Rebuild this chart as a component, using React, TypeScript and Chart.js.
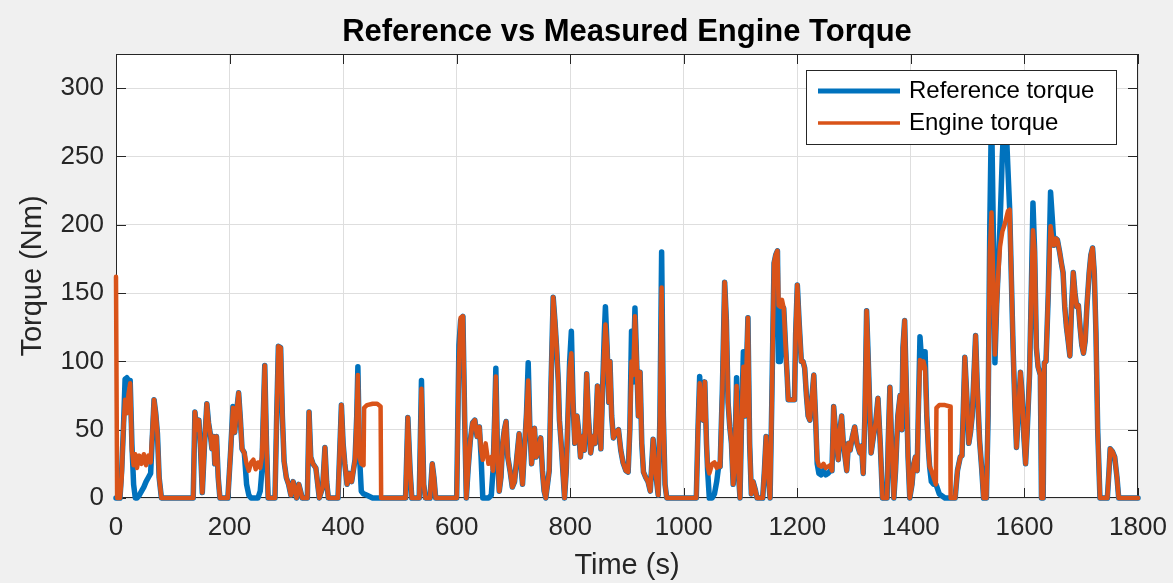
import React, { useEffect, useRef } from "react";
import { Chart, registerables } from "chart.js";

Chart.register(...registerables);

const TITLE = "Reference vs Measured Engine Torque";
const X_LABEL = "Time (s)";
const Y_LABEL = "Torque (Nm)";
const SERIES_LABELS = ["Reference torque", "Engine torque"];
const SERIES_COLORS = ["#0072BD", "#D95319"];

const X_MIN = 0;
const X_MAX = 1800;
const X_STEP = 200;
const Y_MIN = 0;
const Y_MAX = 325;
const Y_STEP = 50;

const time = [
  0, 2, 7, 10, 13, 16, 19, 22, 25, 28, 31, 34, 37, 41, 45, 49, 53, 57, 61, 64, 67, 70, 73, 76, 80,
  136, 139, 142, 146, 149, 152, 156, 160, 163, 166, 169, 172, 174, 177, 180, 183,
  197, 202, 206, 209, 212, 216, 219, 222, 226, 230, 234, 238, 242, 246, 250, 254, 257, 259, 262, 265, 268,
  280, 283, 286, 290, 293, 296, 300, 304, 308, 312, 318, 322, 328,
  337, 340, 343, 347, 352, 358, 364, 368, 371, 374,
  391, 397, 400, 403, 407, 411, 415, 418, 421, 424, 426, 429, 432, 436, 437, 442, 452, 460, 466, 467,
  510, 514, 518, 521, 534, 538, 542, 545, 553, 557, 560, 563,
  600, 604, 607, 611, 614, 617, 620, 624, 628, 632, 636, 640, 643, 646, 651, 656, 661, 664, 667, 669,
  672, 675, 678, 681, 684, 687, 690, 694, 698, 702, 706, 710, 713, 716, 720, 723, 726, 729, 732, 735,
  737, 740, 744, 748, 751, 754, 757, 763, 766, 770, 773, 776, 779, 781, 784, 787, 790, 793, 796, 799,
  802, 805, 808, 812, 815, 818, 821, 825, 829, 832, 836, 840, 844, 848, 851, 854, 857, 860, 862, 865,
  868, 870, 873, 876, 880, 885, 889, 893, 898, 902, 905, 908, 911, 914, 917, 920, 923, 926, 929, 933,
  937, 941, 946, 950, 955, 958, 961, 964, 967, 970,
  1022, 1025, 1028, 1031, 1034, 1037, 1040, 1042, 1045, 1050, 1054, 1058, 1061, 1064, 1068, 1072, 1075,
  1078, 1081, 1084, 1087, 1090, 1093, 1096, 1099, 1102, 1105, 1108, 1110, 1113, 1116, 1119, 1122, 1126,
  1129, 1139, 1142, 1145, 1149, 1152, 1155, 1157, 1159, 1162, 1165, 1167, 1170, 1173, 1176, 1179, 1182,
  1184, 1189, 1195, 1197, 1200, 1203, 1207, 1210, 1213, 1216, 1219, 1222, 1226, 1229, 1232, 1235, 1238,
  1242, 1246, 1250, 1254, 1258, 1261, 1264, 1268, 1272, 1275, 1278, 1281, 1284, 1287, 1290, 1293, 1297,
  1301, 1305, 1310, 1313, 1316, 1319, 1322, 1325, 1328, 1330, 1334, 1338, 1342, 1346, 1350, 1358, 1360,
  1363, 1366, 1370, 1373, 1377, 1381, 1384, 1386, 1389, 1392, 1395, 1398, 1402, 1405, 1408, 1411, 1413,
  1416, 1419, 1422, 1425, 1428, 1431, 1433, 1436, 1440, 1444, 1445, 1450, 1460, 1469, 1470, 1478, 1482,
  1487, 1490, 1495, 1499, 1502, 1505, 1508, 1511, 1514, 1517, 1521, 1525, 1528, 1533, 1536, 1539, 1542,
  1545, 1548, 1551, 1554, 1557, 1561, 1565, 1568, 1571, 1574, 1577, 1580, 1583, 1586, 1589, 1593, 1596,
  1599, 1602, 1605, 1609, 1612, 1615, 1618, 1621, 1624, 1628, 1630, 1633, 1635, 1638, 1642, 1646, 1649,
  1652, 1655, 1658, 1662, 1665, 1668, 1671, 1674, 1677, 1680, 1683, 1686, 1689, 1692, 1695, 1698, 1701,
  1704, 1707, 1710, 1714, 1717, 1720, 1723, 1726, 1729, 1733, 1746, 1749, 1751, 1755, 1759, 1763, 1766,
  1800,
];

const referenceTorque = [
  0, 0, 0, 20, 50, 87, 88, 86, 86, 40, 10, 0, 0, 2, 5, 8, 12, 15, 18, 45, 72, 62, 47, 15, 0,
  0, 63, 50, 57, 35, 4, 40, 69, 55, 47, 36, 45, 25, 45, 15, 0,
  0, 35, 67, 48, 62, 77, 58, 36, 33, 10, 2, 0, 0, 0, 0, 5, 20, 55, 97, 40, 0,
  0, 60, 111, 110, 60, 27, 15, 10, 2, 12, 0, 10, 0,
  0, 63, 30, 25, 22, 0, 8, 37, 12, 0,
  0, 68, 40, 25, 10, 18, 12, 20, 28, 60, 96, 30, 5, 3, 3, 2, 0, 0, 0, 0,
  0, 59, 20, 0, 0, 86, 10, 0, 0, 25, 15, 0,
  0, 112, 130, 133, 60, 0, 20, 42, 55, 57, 45, 52, 30, 0, 0, 0, 2, 20, 60, 95,
  30, 5, 15, 40, 50, 56, 30, 20, 8, 12, 30, 47, 25, 10, 40, 62, 99, 50, 25, 40,
  51, 30, 35, 44, 20, 5, 0, 20, 80, 147, 130, 110, 85, 57, 40, 20, 0, 20, 60, 100,
  122, 70, 40, 60, 48, 30, 45, 35, 91, 60, 33, 45, 40, 82, 60, 36, 80, 120, 140, 110,
  70, 100, 60, 44, 48, 50, 35, 26, 20, 19, 50, 122, 85, 139, 100, 60, 92, 40, 19, 15,
  12, 5, 43, 20, 2, 60, 180, 60, 10, 0,
  0, 50, 89, 60, 57, 85, 40, 20, 0, 0, 3, 12, 22, 23, 80, 158, 130,
  70, 52, 40, 10, 30, 88, 20, 0, 60, 107, 60, 90, 132, 40, 3, 12, 6,
  0, 0, 20, 45, 15, 0, 70, 123, 172, 178, 181, 100, 100, 120, 139, 113, 90,
  72, 72, 72, 120, 156, 130, 100, 100, 95, 75, 60, 57, 75, 90, 60, 25, 18,
  17, 20, 17, 18, 20, 20, 67, 45, 28, 50, 60, 40, 30, 20, 40, 35, 45,
  52, 40, 33, 38, 18, 60, 137, 100, 60, 33, 45, 55, 73, 40, 0, 0, 40,
  81, 40, 0, 20, 60, 75, 50, 110, 130, 80, 30, 0, 10, 25, 30, 20, 60,
  118, 100, 107, 107, 60, 35, 23, 12, 10, 10, 9, 3, 0, 0, 0, 0, 20,
  30, 31, 103, 70, 40, 48, 60, 90, 119, 80, 42, 20, 0, 0, 60, 200, 285,
  200, 99, 140, 170, 200, 250, 285, 270, 240, 211, 160, 110, 70, 37, 60, 92, 75,
  45, 25, 50, 91, 150, 216, 180, 110, 96, 90, 0, 0, 99, 100, 150, 224, 205,
  185, 190, 189, 180, 172, 165, 140, 125, 115, 104, 140, 165, 150, 140, 141, 125, 112,
  106, 115, 140, 165, 178, 183, 165, 120, 50, 0, 0, 20, 36, 34, 30, 15, 0,
  0,
];

const engineTorque = [
  162, 0, 0, 15, 50, 72, 62, 76, 84, 35, 24, 32, 22, 31, 25, 32, 24, 31, 26, 48, 72, 62, 47, 15, 0,
  0, 63, 50, 57, 35, 4, 40, 69, 55, 47, 36, 45, 25, 45, 15, 0,
  0, 35, 66, 48, 62, 77, 58, 36, 33, 25, 20, 26, 28, 21, 26, 22, 30, 55, 97, 40, 0,
  0, 60, 111, 110, 60, 27, 15, 10, 2, 12, 0, 10, 0,
  0, 63, 30, 25, 22, 0, 8, 37, 12, 0,
  0, 68, 40, 25, 10, 18, 12, 20, 28, 60, 90, 30, 25, 24, 66, 68, 69, 69, 67, 0,
  0, 59, 20, 0, 0, 80, 10, 0, 0, 25, 15, 0,
  0, 100, 132, 133, 60, 0, 20, 42, 55, 57, 45, 52, 35, 28, 40, 25, 30, 20, 60, 89,
  30, 5, 15, 40, 50, 56, 30, 20, 8, 12, 30, 47, 25, 10, 40, 62, 86, 50, 25, 40,
  51, 30, 35, 44, 20, 5, 0, 20, 80, 147, 130, 110, 85, 57, 40, 20, 0, 20, 60, 95,
  106, 70, 40, 60, 48, 30, 45, 35, 91, 60, 33, 45, 40, 82, 60, 36, 80, 110, 127, 110,
  70, 100, 60, 44, 48, 50, 35, 26, 20, 19, 50, 100, 90, 133, 100, 60, 92, 40, 19, 15,
  12, 5, 43, 20, 2, 60, 154, 60, 10, 0,
  0, 50, 84, 60, 57, 85, 40, 23, 18, 25, 26, 22, 25, 23, 80, 158, 130,
  70, 52, 40, 10, 30, 82, 20, 0, 60, 96, 60, 90, 132, 40, 3, 12, 6,
  0, 0, 20, 45, 15, 0, 70, 123, 172, 178, 181, 141, 140, 145, 139, 113, 90,
  72, 72, 72, 120, 156, 130, 100, 100, 95, 75, 60, 57, 75, 90, 60, 28, 24,
  23, 25, 22, 23, 24, 20, 67, 45, 28, 50, 60, 40, 30, 20, 40, 35, 45,
  52, 40, 33, 38, 18, 60, 137, 100, 60, 33, 45, 55, 73, 40, 0, 0, 40,
  81, 40, 0, 20, 60, 75, 50, 110, 130, 80, 30, 0, 10, 25, 30, 20, 60,
  101, 95, 100, 95, 60, 35, 23, 20, 15, 10, 66, 68, 68, 67, 0, 0, 20,
  30, 31, 103, 70, 40, 48, 60, 90, 119, 80, 42, 20, 0, 0, 60, 180, 209,
  160, 105, 140, 165, 184, 195, 200, 205, 210, 211, 160, 110, 70, 37, 60, 92, 75,
  45, 25, 50, 91, 150, 196, 180, 110, 96, 90, 0, 0, 99, 100, 150, 199, 190,
  185, 190, 189, 180, 172, 165, 140, 125, 115, 104, 140, 165, 150, 140, 141, 125, 112,
  106, 115, 140, 165, 178, 183, 165, 120, 50, 0, 0, 20, 36, 34, 30, 15, 0,
  0,
];

const FONT = 'Helvetica, "Liberation Sans", Arial, sans-serif';
const AXIS_COLOR = "#262626";
const GRID_COLOR = "#dedede";

const matlabLook = {
  id: "matlabLook",
  beforeDraw(chart: any) {
    const { ctx, chartArea: a, width, height } = chart;
    ctx.save();
    ctx.fillStyle = "#f0f0f0";
    ctx.fillRect(0, 0, width, height);
    ctx.fillStyle = "#ffffff";
    ctx.fillRect(a.left, a.top, a.right - a.left, a.bottom - a.top);
    ctx.restore();
  },
  beforeDatasetsDraw(chart: any) {
    const { ctx, chartArea: a, scales } = chart;
    const xs = scales.x;
    const ys = scales.y;
    const len = 10;
    ctx.save();
    ctx.strokeStyle = AXIS_COLOR;
    ctx.lineWidth = 1;
    ctx.beginPath();
    xs.ticks.forEach((t: any) => {
      const px = Math.round(xs.getPixelForValue(t.value)) + 0.5;
      ctx.moveTo(px, a.bottom);
      ctx.lineTo(px, a.bottom - len);
      ctx.moveTo(px, a.top);
      ctx.lineTo(px, a.top + len);
    });
    ys.ticks.forEach((t: any) => {
      const py = Math.round(ys.getPixelForValue(t.value)) + 0.5;
      ctx.moveTo(a.left, py);
      ctx.lineTo(a.left + len, py);
      ctx.moveTo(a.right, py);
      ctx.lineTo(a.right - len, py);
    });
    ctx.stroke();
    ctx.strokeRect(Math.round(a.left) + 0.5, Math.round(a.top) + 0.5, Math.round(a.right - a.left) - 1, Math.round(a.bottom - a.top) - 1);
    ctx.restore();
  },
  afterDraw(chart: any) {
    const { ctx, chartArea: a } = chart;
    ctx.save();
    // title
    ctx.fillStyle = "#000000";
    ctx.font = `bold 31px ${FONT}`;
    ctx.textAlign = "center";
    ctx.textBaseline = "middle";
    ctx.fillText(TITLE, (a.left + a.right) / 2, a.top - 22);

    // legend
    const boxRight = a.right - 22;
    const boxLeft = boxRight - 310;
    const boxTop = a.top + 16;
    const boxH = 74;
    ctx.fillStyle = "#ffffff";
    ctx.fillRect(boxLeft, boxTop, boxRight - boxLeft, boxH);
    ctx.strokeStyle = AXIS_COLOR;
    ctx.lineWidth = 1;
    ctx.strokeRect(Math.round(boxLeft) + 0.5, Math.round(boxTop) + 0.5, Math.round(boxRight - boxLeft), boxH);
    const datasets = chart.data.datasets;
    ctx.font = `24px ${FONT}`;
    ctx.textAlign = "left";
    ctx.textBaseline = "middle";
    datasets.forEach((ds: any, i: number) => {
      const y = boxTop + 21 + i * 32;
      ctx.strokeStyle = ds.borderColor;
      ctx.lineWidth = i === 0 ? 5 : 3.5;
      ctx.beginPath();
      ctx.moveTo(boxLeft + 12, y);
      ctx.lineTo(boxLeft + 94, y);
      ctx.stroke();
      ctx.fillStyle = "#000000";
      ctx.fillText(ds.label, boxLeft + 103, y);
    });
    ctx.restore();
  },
};

export default function App() {
  const canvasRef = useRef<HTMLCanvasElement | null>(null);

  useEffect(() => {
    if (!canvasRef.current) return;
    const refData = time.map((t, i) => ({ x: t, y: referenceTorque[i] }));
    const engData = time.map((t, i) => ({ x: t, y: engineTorque[i] }));
    const tickFont = { size: 26, family: FONT };
    const titleFont = { size: 29, family: FONT };
    const plain = (v: any) => String(v);
    const chart = new Chart(canvasRef.current, {
      type: "line",
      data: {
        datasets: [
          {
            label: SERIES_LABELS[0],
            data: refData,
            borderColor: SERIES_COLORS[0],
            backgroundColor: SERIES_COLORS[0],
            borderWidth: 5.5,
            pointRadius: 0,
            tension: 0,
            clip: 6,
            borderJoinStyle: "round",
            borderCapStyle: "round",
            order: 1,
          },
          {
            label: SERIES_LABELS[1],
            data: engData,
            borderColor: SERIES_COLORS[1],
            backgroundColor: SERIES_COLORS[1],
            borderWidth: 4.5,
            pointRadius: 0,
            tension: 0,
            clip: 6,
            borderJoinStyle: "round",
            borderCapStyle: "round",
            order: 0,
          },
        ],
      } as any,
      options: {
        animation: false,
        responsive: true,
        maintainAspectRatio: false,
        layout: { padding: { top: 54, right: 35, left: 0, bottom: 0 } },
        plugins: {
          legend: { display: false },
          title: { display: false },
          tooltip: { enabled: false },
        },
        scales: {
          x: {
            type: "linear",
            min: X_MIN,
            max: X_MAX,
            ticks: {
              stepSize: X_STEP,
              includeBounds: false,
              padding: 14,
              color: AXIS_COLOR,
              font: tickFont,
              maxRotation: 0,
              autoSkip: false,
              callback: plain,
            },
            grid: { color: GRID_COLOR, drawTicks: false, lineWidth: 1 },
            border: { display: false },
            title: { display: true, text: X_LABEL, color: AXIS_COLOR, font: titleFont, padding: 0 },
            afterFit: (s: any) => {
              s.height = 85;
              s.paddingLeft = 0;
              s.paddingRight = 0;
            },
          },
          y: {
            type: "linear",
            min: Y_MIN,
            max: Y_MAX,
            ticks: {
              stepSize: Y_STEP,
              includeBounds: false,
              padding: 12,
              color: AXIS_COLOR,
              font: tickFont,
              callback: plain,
            },
            grid: { color: GRID_COLOR, drawTicks: false, lineWidth: 1 },
            border: { display: false },
            title: { display: true, text: Y_LABEL, color: AXIS_COLOR, font: titleFont, padding: { top: 16, bottom: 0 } },
            afterFit: (s: any) => {
              s.width = 116;
              s.paddingTop = 0;
              s.paddingBottom = 0;
            },
          },
        },
      } as any,
      plugins: [matlabLook],
    });
    return () => chart.destroy();
  }, []);

  return (
    <div style={{ position: "fixed", left: 0, top: 0, width: 1173, height: 583, background: "#f0f0f0" }}>
      <canvas ref={canvasRef} />
    </div>
  );
}
